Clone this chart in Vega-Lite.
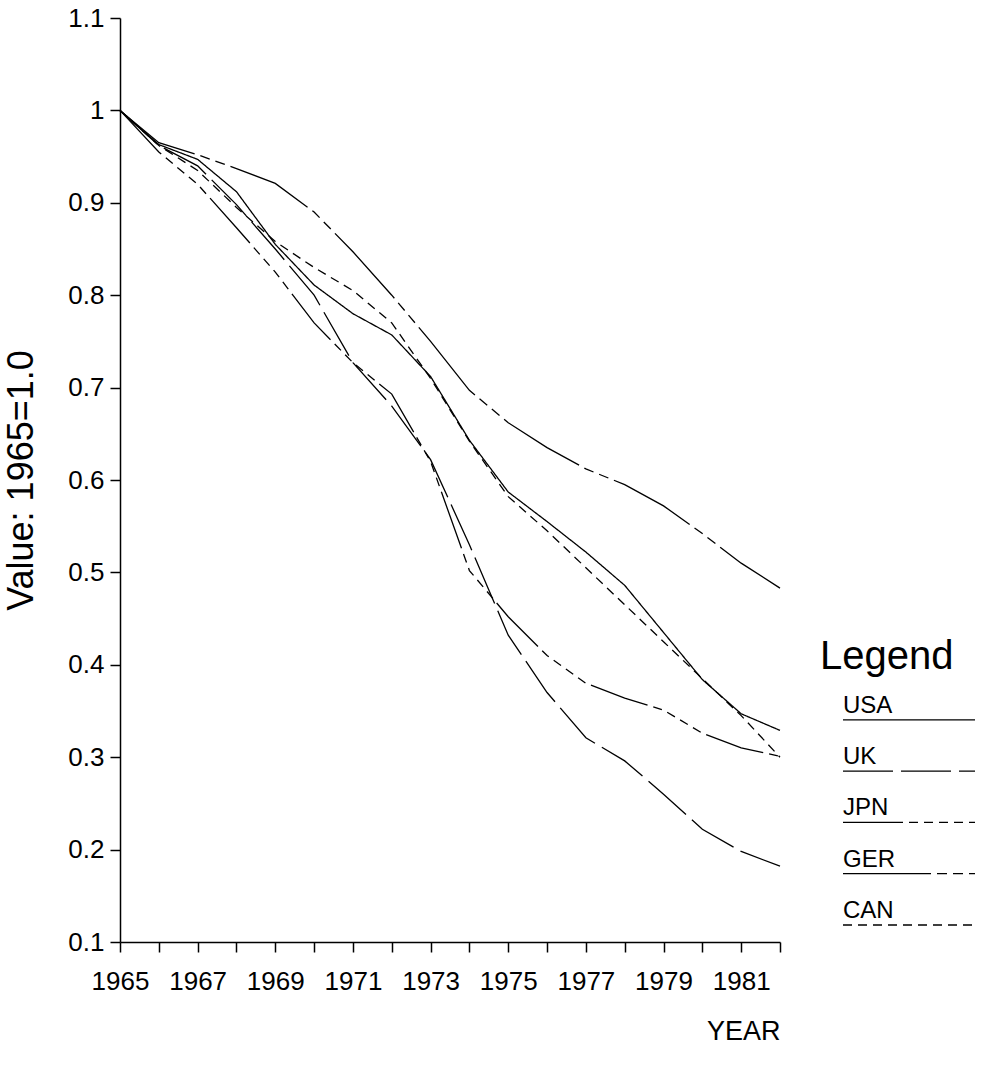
{
  "$schema": "https://vega.github.io/schema/vega-lite/v6.json",
  "background": "white",
  "padding": {"left": 3, "top": 5, "right": 0, "bottom": 0},
  "config": {
    "view": {"stroke": null},
    "axis": {
      "grid": false,
      "domainColor": "black",
      "tickColor": "black",
      "labelColor": "black",
      "titleColor": "black",
      "labelFont": "Liberation Sans",
      "titleFont": "Liberation Sans",
      "labelFontWeight": "normal",
      "titleFontWeight": "normal",
      "domainWidth": 1.5,
      "tickWidth": 1.5
    }
  },
  "datasets": {
    "series": [
      {"country": "USA", "year": 1965, "value": 1.0},
      {"country": "USA", "year": 1966, "value": 0.963},
      {"country": "USA", "year": 1967, "value": 0.947},
      {"country": "USA", "year": 1968, "value": 0.912},
      {"country": "USA", "year": 1969, "value": 0.855},
      {"country": "USA", "year": 1970, "value": 0.811},
      {"country": "USA", "year": 1971, "value": 0.78},
      {"country": "USA", "year": 1972, "value": 0.757},
      {"country": "USA", "year": 1973, "value": 0.712},
      {"country": "USA", "year": 1974, "value": 0.643},
      {"country": "USA", "year": 1975, "value": 0.587},
      {"country": "USA", "year": 1976, "value": 0.555},
      {"country": "USA", "year": 1977, "value": 0.522},
      {"country": "USA", "year": 1978, "value": 0.486},
      {"country": "USA", "year": 1979, "value": 0.435},
      {"country": "USA", "year": 1980, "value": 0.384},
      {"country": "USA", "year": 1981, "value": 0.347},
      {"country": "USA", "year": 1982, "value": 0.329},
      {"country": "UK", "year": 1965, "value": 1.0},
      {"country": "UK", "year": 1966, "value": 0.962},
      {"country": "UK", "year": 1967, "value": 0.94},
      {"country": "UK", "year": 1968, "value": 0.898},
      {"country": "UK", "year": 1969, "value": 0.85},
      {"country": "UK", "year": 1970, "value": 0.8},
      {"country": "UK", "year": 1971, "value": 0.727},
      {"country": "UK", "year": 1972, "value": 0.68},
      {"country": "UK", "year": 1973, "value": 0.622},
      {"country": "UK", "year": 1974, "value": 0.53},
      {"country": "UK", "year": 1975, "value": 0.432},
      {"country": "UK", "year": 1976, "value": 0.37},
      {"country": "UK", "year": 1977, "value": 0.321},
      {"country": "UK", "year": 1978, "value": 0.296},
      {"country": "UK", "year": 1979, "value": 0.26},
      {"country": "UK", "year": 1980, "value": 0.222},
      {"country": "UK", "year": 1981, "value": 0.198},
      {"country": "UK", "year": 1982, "value": 0.182},
      {"country": "JPN", "year": 1965, "value": 1.0},
      {"country": "JPN", "year": 1966, "value": 0.955},
      {"country": "JPN", "year": 1967, "value": 0.92},
      {"country": "JPN", "year": 1968, "value": 0.873},
      {"country": "JPN", "year": 1969, "value": 0.825},
      {"country": "JPN", "year": 1970, "value": 0.77},
      {"country": "JPN", "year": 1971, "value": 0.727},
      {"country": "JPN", "year": 1972, "value": 0.693},
      {"country": "JPN", "year": 1973, "value": 0.62},
      {"country": "JPN", "year": 1974, "value": 0.502},
      {"country": "JPN", "year": 1975, "value": 0.452},
      {"country": "JPN", "year": 1976, "value": 0.41},
      {"country": "JPN", "year": 1977, "value": 0.38},
      {"country": "JPN", "year": 1978, "value": 0.364},
      {"country": "JPN", "year": 1979, "value": 0.351},
      {"country": "JPN", "year": 1980, "value": 0.326},
      {"country": "JPN", "year": 1981, "value": 0.31},
      {"country": "JPN", "year": 1982, "value": 0.301},
      {"country": "GER", "year": 1965, "value": 1.0},
      {"country": "GER", "year": 1966, "value": 0.965},
      {"country": "GER", "year": 1967, "value": 0.952},
      {"country": "GER", "year": 1968, "value": 0.937},
      {"country": "GER", "year": 1969, "value": 0.921},
      {"country": "GER", "year": 1970, "value": 0.89},
      {"country": "GER", "year": 1971, "value": 0.847},
      {"country": "GER", "year": 1972, "value": 0.8},
      {"country": "GER", "year": 1973, "value": 0.75},
      {"country": "GER", "year": 1974, "value": 0.697},
      {"country": "GER", "year": 1975, "value": 0.662},
      {"country": "GER", "year": 1976, "value": 0.635},
      {"country": "GER", "year": 1977, "value": 0.612},
      {"country": "GER", "year": 1978, "value": 0.595},
      {"country": "GER", "year": 1979, "value": 0.572},
      {"country": "GER", "year": 1980, "value": 0.542},
      {"country": "GER", "year": 1981, "value": 0.51},
      {"country": "GER", "year": 1982, "value": 0.483},
      {"country": "CAN", "year": 1965, "value": 1.0},
      {"country": "CAN", "year": 1966, "value": 0.962},
      {"country": "CAN", "year": 1967, "value": 0.935},
      {"country": "CAN", "year": 1968, "value": 0.895},
      {"country": "CAN", "year": 1969, "value": 0.858},
      {"country": "CAN", "year": 1970, "value": 0.83},
      {"country": "CAN", "year": 1971, "value": 0.805},
      {"country": "CAN", "year": 1972, "value": 0.77},
      {"country": "CAN", "year": 1973, "value": 0.71},
      {"country": "CAN", "year": 1974, "value": 0.642},
      {"country": "CAN", "year": 1975, "value": 0.582},
      {"country": "CAN", "year": 1976, "value": 0.545},
      {"country": "CAN", "year": 1977, "value": 0.505},
      {"country": "CAN", "year": 1978, "value": 0.465},
      {"country": "CAN", "year": 1979, "value": 0.425},
      {"country": "CAN", "year": 1980, "value": 0.385},
      {"country": "CAN", "year": 1981, "value": 0.345},
      {"country": "CAN", "year": 1982, "value": 0.3}
    ],
    "legendRows": [
      {"country": "USA"},
      {"country": "UK"},
      {"country": "JPN"},
      {"country": "GER"},
      {"country": "CAN"}
    ],
    "legendTitle": [
      {"country": "Legend"}
    ]
  },
  "spacing": 37,
  "hconcat": [
    {
      "width": 660,
      "height": 924,
      "data": {"name": "series"},
      "mark": {"type": "line", "color": "black", "strokeWidth": 1.3},
      "encoding": {
        "x": {
          "field": "year",
          "type": "quantitative",
          "scale": {"domain": [1965, 1982], "nice": false, "zero": false},
          "axis": {
            "title": "YEAR",
            "titleAnchor": "end",
            "titleFontSize": 27,
            "titlePadding": 24,
            "values": [1965, 1966, 1967, 1968, 1969, 1970, 1971, 1972, 1973, 1974, 1975, 1976, 1977, 1978, 1979, 1980, 1981, 1982],
            "format": "d",
            "labelExpr": "datum.value % 2 == 1 ? datum.label : ''",
            "labelFontSize": 26,
            "labelFlush": false,
            "labelOverlap": false,
            "labelPadding": 16,
            "tickSize": 10
          }
        },
        "y": {
          "field": "value",
          "type": "quantitative",
          "scale": {"domain": [0.1, 1.1], "nice": false, "zero": false},
          "axis": {
            "title": "Value: 1965=1.0",
            "titleFontSize": 36,
            "titlePadding": 27,
            "values": [0.1, 0.2, 0.3, 0.4, 0.5, 0.6, 0.7, 0.8, 0.9, 1.0, 1.1],
            "format": "~g",
            "labelFontSize": 26,
            "labelFlush": false,
            "labelOverlap": false,
            "labelPadding": 6,
            "tickSize": 10
          }
        },
        "strokeDash": {
          "field": "country",
          "type": "nominal",
          "scale": {
            "domain": ["USA", "UK", "JPN", "GER", "CAN"],
            "range": [[1, 0], [50, 8], [60, 6, 9, 6, 9, 6, 9, 6, 9, 6], [88, 6, 10, 6, 10, 6], [9, 6]]
          },
          "legend": null
        }
      }
    },
    {
      "width": 132,
      "height": 924,
      "layer": [
        {
          "data": {"name": "legendRows"},
          "mark": {"type": "rule", "color": "black", "strokeWidth": 1.3},
          "encoding": {
            "x": {"datum": 0, "type": "quantitative", "scale": {"domain": [0, 1]}, "axis": null},
            "x2": {"datum": 1},
            "y": {
              "field": "country",
              "type": "nominal",
              "scale": {"type": "point", "domain": ["Legend", "USA", "UK", "JPN", "GER", "CAN"], "range": [650.5, 907], "padding": 0},
              "axis": null
            },
            "strokeDash": {
              "field": "country",
              "type": "nominal",
              "scale": {
                "domain": ["USA", "UK", "JPN", "GER", "CAN"],
                "range": [[1, 0], [50, 8], [60, 6, 9, 6, 9, 6, 9, 6, 9, 6], [88, 6, 10, 6, 10, 6], [8, 5]]
              },
              "legend": null
            }
          }
        },
        {
          "data": {"name": "legendRows"},
          "mark": {"type": "text", "align": "left", "baseline": "alphabetic", "dy": -7, "font": "Liberation Sans", "fontSize": 24, "color": "black"},
          "encoding": {
            "x": {"datum": 0, "type": "quantitative", "scale": {"domain": [0, 1]}, "axis": null},
            "y": {"field": "country", "type": "nominal", "axis": null},
            "text": {"field": "country"}
          }
        },
        {
          "data": {"name": "legendTitle"},
          "mark": {"type": "text", "align": "left", "baseline": "alphabetic", "dx": -23, "font": "Liberation Sans", "fontSize": 40, "color": "black"},
          "encoding": {
            "x": {"datum": 0, "type": "quantitative", "scale": {"domain": [0, 1]}, "axis": null},
            "y": {"field": "country", "type": "nominal", "axis": null},
            "text": {"field": "country"}
          }
        }
      ]
    }
  ]
}
